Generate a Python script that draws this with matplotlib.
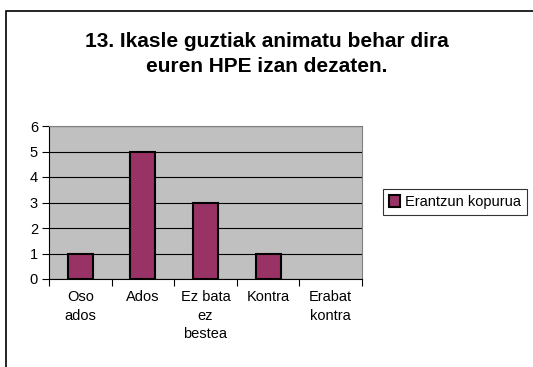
import matplotlib.pyplot as plt
from matplotlib.patches import Rectangle

categories = ['Oso\nados', 'Ados', 'Ez bata\nez\nbestea', 'Kontra', 'Erabat\nkontra']
counts = [1, 5, 3, 1, 0]
series_name = 'Erantzun kopurua'
title = '13. Ikasle guztiak animatu behar dira\neuren HPE izan dezaten.'

plt.rcParams['font.family'] = ['Liberation Sans', 'DejaVu Sans']

W, H = 533, 367
fig = plt.figure(figsize=(W / 100, H / 100), dpi=100)

# outer chart frame
fig.patches.append(Rectangle((6 / W, -0.1), 1.2, 1 - 11 / H + 0.1, transform=fig.transFigure,
                             fill=False, edgecolor='black', linewidth=1.2))

ax = fig.add_axes([49 / W, 1 - 279 / H, (362 - 49) / W, (279 - 126) / H])
ax.set_facecolor('#c0c0c0')
x = list(range(len(categories)))
# empty categories get no outline
edges = [1.5 if c else 0 for c in counts]
ax.bar(x, counts, width=0.4, color='#993366', edgecolor='black', linewidth=edges,
       label=series_name, zorder=3)
ax.set_xlim(-0.5, len(categories) - 0.5)
ax.set_ylim(0, 6)
ax.set_yticks(range(0, 7))
ax.yaxis.grid(True, color='black', linewidth=0.8, zorder=1)
ax.set_axisbelow(True)

ax.set_xticks([i - 0.5 for i in range(len(categories) + 1)])
ax.set_xticklabels([])
ax.set_xticks(x, minor=True)
ax.set_xticklabels(categories, minor=True, fontsize=10.5, linespacing=1.4, va='top')
ax.tick_params(axis='x', which='minor', length=0, pad=8)
ax.tick_params(axis='x', which='major', length=5, direction='out')
ax.tick_params(axis='y', length=5, direction='out', labelsize=10.5, pad=3)

for side in ['top', 'right']:
    ax.spines[side].set_color('#808080')
ax.spines['left'].set_color('black')
ax.spines['bottom'].set_color('black')

fig.text(0.5, 1 - 54 / H, title, ha='center', va='center', fontsize=15,
         fontweight='bold', linespacing=1.4)

leg = fig.legend(loc='center left', bbox_to_anchor=(383 / W, 1 - 202 / H), fontsize=10.5,
                 frameon=True, fancybox=False, edgecolor='black', handlelength=0.8,
                 handleheight=0.8, handletextpad=0.3, borderpad=0.4, borderaxespad=0)
leg.get_frame().set_linewidth(0.8)

fig.savefig('out.png', dpi=100)
